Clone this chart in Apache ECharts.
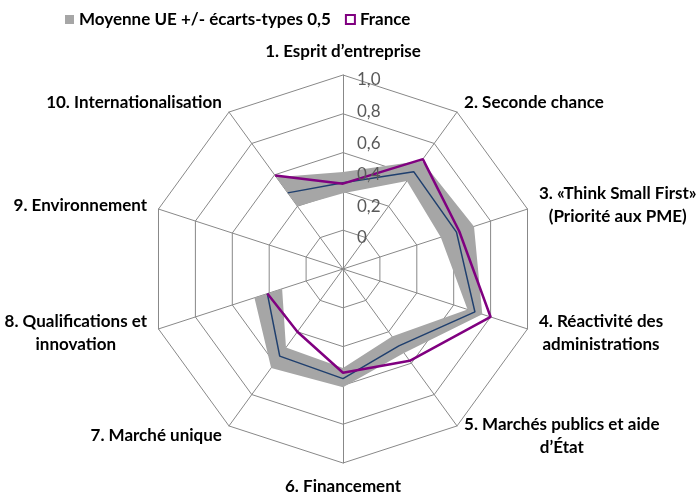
<!DOCTYPE html>
<html>
<head>
<meta charset="utf-8">
<script src="https://cdn.jsdelivr.net/npm/echarts@6/dist/echarts.min.js"></script>
<style>
html, body { margin: 0; padding: 0; background: #fff; }
#main { width: 696px; height: 494px; }
</style>
</head>
<body>
<div id="main"></div>
<script>
var axisNames = [
    '1. Esprit d’entreprise',
    '2. Seconde chance',
    '3. «Think Small First»\n(Priorité aux PME)',
    '4. Réactivité des\nadministrations',
    '5. Marchés publics et aide\nd’État',
    '6. Financement',
    '7. Marché unique',
    '8. Qualifications et\ninnovation',
    '9. Environnement',
    '10. Internationalisation'
];
var tickValues = [0, 0.2, 0.4, 0.6, 0.8, 1.0];
// valeurs (axe 9 sans donnée)
var france = [0.44, 0.70, 0.63, 0.80, 0.585, 0.535, 0.40, 0.41, null, 0.595];
var euMean = [0.445, 0.62, 0.615, 0.715, 0.49, 0.565, 0.555, 0.41, null, 0.485];
var euLow  = [0.39, 0.56, 0.53, 0.675, 0.43, 0.51, 0.50, 0.33, null, 0.40];
var euHigh = [0.50, 0.69, 0.71, 0.755, 0.535, 0.61, 0.63, 0.48, null, 0.585];

var bandName = 'Moyenne UE +/- écarts-types 0,5';
var font = 'Lato';

var myChart = echarts.init(document.getElementById('main'));

// ordre de tracé : on part juste après la valeur manquante
var gap = france.indexOf(null);
var order = [];
for (var i = 1; i <= axisNames.length; i++) {
    var k = (gap + i) % axisNames.length;
    if (france[k] !== null) order.push(k);
}

// le radar tourne dans le sens inverse : 1, 10, 9, ... 2
var indicator = [{ name: axisNames[0], max: 1, min: 0 }];
for (var j = axisNames.length - 1; j >= 1; j--) {
    indicator.push({ name: axisNames[j], max: 1, min: 0 });
}

function toPolar(arr) {
    return order.map(function (k) { return [arr[k], k]; });
}

var option = {
    animation: false,
    legend: {
        left: 60,
        top: 6,
        itemWidth: 9,
        itemHeight: 9,
        itemGap: 14,
        textStyle: { fontFamily: font, fontWeight: 'bold', fontSize: 17, color: '#000' },
        data: [
            { name: bandName, icon: 'rect', itemStyle: { color: '#A6A6A6' } },
            { name: 'France', icon: 'rect', itemStyle: { color: '#fff', borderColor: '#800080', borderWidth: 2 } }
        ]
    },
    radar: {
        center: [343, 269],
        radius: 194,
        startAngle: 90,
        splitNumber: 5,
        shape: 'polygon',
        indicator: indicator,
        nameGap: 12,
        axisName: {
            color: '#000',
            fontFamily: font,
            fontWeight: 'bold',
            fontSize: 17,
            formatter: function (name) {
                return name.split('\n').map(function (l) { return '{c|' + l + '}'; }).join('\n');
            },
            rich: {
                c: { align: 'center', fontFamily: font, fontWeight: 'bold', fontSize: 17, color: '#000', lineHeight: 23 }
            }
        },
        axisLine: { lineStyle: { color: '#888', width: 1 } },
        splitLine: { lineStyle: { color: '#888', width: 1 } },
        splitArea: { show: false },
        axisLabel: { show: false }
    },
    polar: [
        { center: [343, 269], radius: 194 },
        { center: [343, 238], radius: 158 }
    ],
    angleAxis: [
        { polarIndex: 0, type: 'value', min: 0, max: 10, startAngle: 90, clockwise: true, show: false },
        { polarIndex: 1, type: 'value', min: 0, max: 10, startAngle: 90, clockwise: true, show: false }
    ],
    radiusAxis: [
        { polarIndex: 0, type: 'value', min: 0, max: 1, show: false },
        {
            polarIndex: 1, type: 'value', min: 0, max: 1, interval: 0.2,
            z: 10,
            axisLine: { show: false },
            axisTick: { show: false },
            splitLine: { show: false },
            axisLabel: {
                margin: -14,
                align: 'left',
                color: '#595959',
                fontFamily: font,
                fontSize: 17,
                formatter: function (v) {
                    var i = tickValues.indexOf(Math.round(v * 10) / 10);
                    if (i < 0) return '';
                    return i === 0 ? '0' : tickValues[i].toFixed(1).replace('.', ',');
                }
            }
        }
    ],
    series: [
        {
            name: bandName,
            type: 'custom',
            coordinateSystem: 'polar',
            polarIndex: 0,
            itemStyle: { color: '#A6A6A6' },
            data: [[0.5, 0]],
            renderItem: function (params, api) {
                var pts = [];
                order.forEach(function (k) { pts.push(api.coord([euHigh[k], k])); });
                order.slice().reverse().forEach(function (k) { pts.push(api.coord([euLow[k], k])); });
                return { type: 'polygon', shape: { points: pts }, style: { fill: '#A6A6A6' } };
            },
            z: 2
        },
        {
            name: 'Moyenne UE',
            type: 'line',
            coordinateSystem: 'polar',
            polarIndex: 0,
            data: toPolar(euMean),
            symbol: 'none',
            lineStyle: { color: '#1F3F6E', width: 1.5 },
            itemStyle: { color: '#1F3F6E' },
            z: 3
        },
        {
            name: 'France',
            type: 'line',
            coordinateSystem: 'polar',
            polarIndex: 0,
            data: toPolar(france),
            symbol: 'none',
            lineStyle: { color: '#800080', width: 2.5 },
            itemStyle: { color: '#800080' },
            z: 4
        }
    ]
};

myChart.setOption(option);
</script>
</body>
</html>
